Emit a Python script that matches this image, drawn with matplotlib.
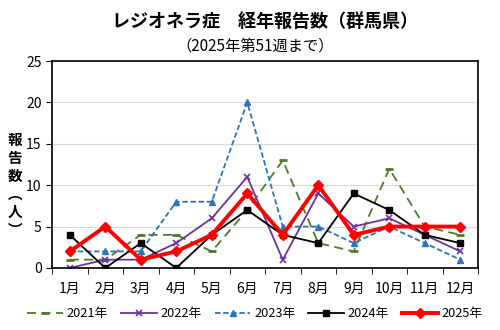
import matplotlib
matplotlib.use("Agg")
import matplotlib.pyplot as plt
import numpy as np

plt.rcParams['font.family'] = ['Noto Sans CJK JP', 'DejaVu Sans']

months = ["1月", "2月", "3月", "4月", "5月", "6月", "7月", "8月", "9月", "10月", "11月", "12月"]
y2021 = [1, 1, 4, 4, 2, 7, 13, 3, 2, 12, 5, 4]
y2022 = [0, 1, 1, 3, 6, 11, 1, 9, 5, 6, 4, 2]
y2023 = [2, 2, 2, 8, 8, 20, 5, 5, 3, 5, 3, 1]
y2024 = [4, 0, 3, 0, 4, 7, 4, 3, 9, 7, 4, 3]
y2025 = [2, 5, 1, 2, 4, 9, 4, 10, 4, 5, 5, 5]

fig = plt.figure(figsize=(5, 3.3), dpi=100)
ax = fig.add_axes([0.104, 0.188, 0.852, 0.627])

x = np.arange(len(months))
ax.plot(x, y2021, color="#4f7a28", linestyle=(0, (5, 3)), linewidth=1.3,
        marker="_", markersize=6, markeredgewidth=2, label="2021年")
ax.plot(x, y2022, color="#7030a0", linewidth=1.3,
        marker="x", markersize=4, markeredgewidth=1.2, label="2022年")
ax.plot(x, y2023, color="#2e75b6", linestyle=(0, (3, 1.5)), linewidth=1.3,
        marker="^", markersize=4, label="2023年")
ax.plot(x, y2024, color="black", linewidth=1.3,
        marker="s", markersize=4.5, label="2024年")
ax.plot(x, y2025, color="#ff0000", linewidth=2.8,
        marker="D", markersize=5.5, label="2025年")

ax.set_xlim(-0.5, 11.5)
ax.set_ylim(0, 25)
ax.set_yticks(range(0, 26, 5))
ax.set_xticks(x)
ax.set_xticklabels(months, fontsize=10)
ax.set_xticks(np.arange(-0.5, 12, 1), minor=True)
ax.tick_params(axis="x", which="major", length=0, pad=10)
ax.tick_params(axis="x", which="minor", length=4, direction="out")
ax.tick_params(axis="y", labelsize=10, length=4, direction="out")
ax.grid(axis="y", color="#d9d9d9", linewidth=0.8)
ax.set_axisbelow(True)
for s in ax.spines.values():
    s.set_linewidth(1.2)

fig.text(0.03, 0.44, "報\n告\n数\n︵\n人\n︶", fontsize=10.5, fontweight="bold",
         ha="center", va="center", linespacing=1.15)

fig.text(0.53, 0.935, "レジオネラ症　経年報告数（群馬県）", fontsize=13,
         fontweight="bold", ha="center", va="center")
fig.text(0.51, 0.86, "（2025年第51週まで）", fontsize=11, ha="center", va="center")

fig.legend(loc="center", bbox_to_anchor=(0.51, 0.05), ncol=5, frameon=False,
           fontsize=9.2, handlelength=2.8, handletextpad=0.3, columnspacing=1.0)

fig.savefig("out.png", dpi=100)
